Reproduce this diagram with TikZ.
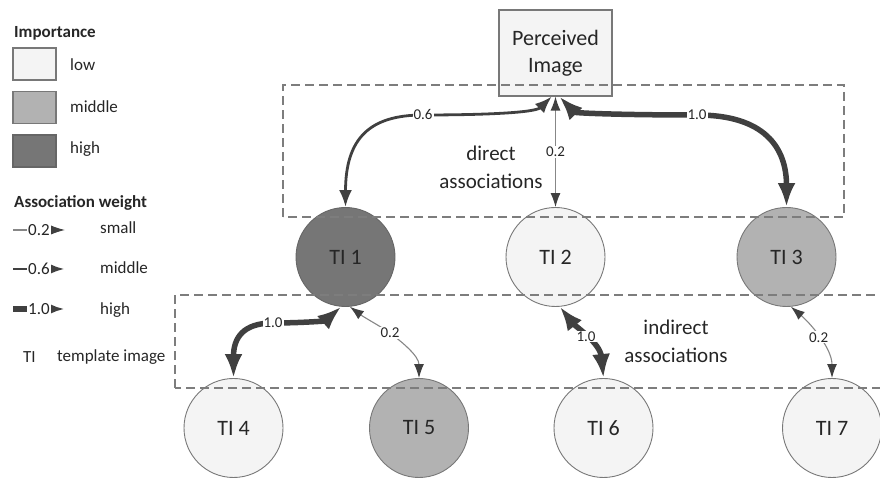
\documentclass[tikz,border=0pt]{standalone}
\usepackage{fontspec}
\setmainfont{Carlito}
\usepackage{xcolor}
\definecolor{imp-low}{RGB}{244, 244, 244}
\definecolor{imp-mid}{RGB}{178, 178, 178}
\definecolor{imp-high}{RGB}{118, 118, 118}
\definecolor{rim}{RGB}{120, 120, 120}
\definecolor{ink}{RGB}{38,  38,  38}
\definecolor{edge-dark}{RGB}{64,  64,  64}
\definecolor{edge-light}{RGB}{135, 135, 135}
\definecolor{frame-gray}{RGB}{125, 125, 125}
\usepackage{tikz}
\usetikzlibrary{arrows.meta}
\tikzset{
  % --- PRIMITIVES (shade-named) ---
  gray-light/.style={
    fill=imp-low,
    draw=rim,
    text=ink
  },
  gray-mid/.style={
    fill=imp-mid,
    draw=rim,
    text=ink
  },
  gray-dark/.style={
    fill=imp-high,
    draw=rim!85!black,
    text=ink
  },
  % --- NODES ---
  template/.style={
    circle,
    minimum size=99pt,
    inner sep=0pt,
    line width=0.9pt,
    font=\fontsize{22pt}{26pt}\selectfont
  },
  perceived/.style={
    gray-light,
    rectangle,
    minimum width=113pt,
    minimum height=86pt,
    line width=1.1pt,
    align=center,
    font=\fontsize{22pt}{27pt}\selectfont
  },
  % --- GROUP BOXES ---
  group-box/.style={
    draw=frame-gray,
    line width=1.2pt,
    dash pattern=on 9pt off 5pt
  },
  group-title/.style={
    text=ink,
    align=center,
    font=\fontsize{21pt}{28pt}\selectfont
  },
  % --- LEGEND ---
  legend-title/.style={
    text=ink,
    anchor=west,
    inner sep=0pt,
    font=\fontsize{17pt}{20pt}\selectfont\bfseries
  },
  legend-text/.style={
    text=ink,
    anchor=west,
    inner sep=0pt,
    font=\fontsize{17pt}{20pt}\selectfont
  },
  legend-swatch/.style={
    minimum width=43pt,
    minimum height=32pt,
    inner sep=0pt,
    line width=1.1pt
  },
  legend-arrow/.style={
    ->,
    >={Latex[length=15pt, width=10pt, color=edge-dark]}
  },
  % --- ARROWS ---
  assoc-small/.style={
    draw=edge-light,
    line width=1.1pt,
    >={Latex[length=14pt, width=10pt, color=edge-dark]},
    <->
  },
  assoc-mid/.style={
    draw=edge-dark,
    line width=2.8pt,
    >={Latex[length=17pt, width=13pt]},
    <->
  },
  assoc-high/.style={
    draw=edge-dark,
    line width=5.5pt,
    >={Latex[length=24pt, width=18pt]},
    <->
  },
  assoc-label/.style={
    fill=white,
    text=ink,
    inner sep=1pt,
    font=\fontsize{15pt}{17pt}\selectfont
  },
}

\begin{document}
\begin{tikzpicture}[x=1pt, y=1pt]
  \useasboundingbox (0, 0) rectangle (880, 478);
  \clip (0, 0) rectangle (880, 478);

  % --- legend: importance
  \node[legend-title] (imp-title) at (14, 444.5) {Importance};
  \node[legend-swatch, gray-light] (sw-low)  at (34.5, 414) {};
  \node[legend-text] (sw-low-txt)  at (70, 413) {low};
  \node[legend-swatch, gray-mid]   (sw-mid)  at (34.5, 370.5) {};
  \node[legend-text] (sw-mid-txt)  at (70, 371) {middle};
  \node[legend-swatch, gray-dark]  (sw-high) at (34.5, 327) {};
  \node[legend-text] (sw-high-txt) at (70, 329) {high};
  % --- legend: association weight
  \node[legend-title] (wt-title) at (14, 275) {Association weight};
  \coordinate (ws-a) at (13, 248);  \coordinate (ws-b) at (65, 248);
  \coordinate (wm-a) at (13, 209);  \coordinate (wm-b) at (65, 209);
  \coordinate (wh-a) at (13, 169);  \coordinate (wh-b) at (65, 169);
  \draw[assoc-small, legend-arrow] (ws-a) -- node[assoc-label, font=\fontsize{17pt}{20pt}\selectfont] {0.2} (ws-b);
  \draw[assoc-mid, legend-arrow]   (wm-a) -- node[assoc-label, font=\fontsize{17pt}{20pt}\selectfont] {0.6} (wm-b);
  \draw[assoc-high, legend-arrow]  (wh-a) -- node[assoc-label, font=\fontsize{17pt}{20pt}\selectfont] {1.0} (wh-b);
  \node[legend-text] (wt-small)  at (100, 250) {small};
  \node[legend-text] (wt-middle) at (100, 210) {middle};
  \node[legend-text] (wt-high)   at (100, 168) {high};
  \node[legend-text] (ti-abbr)   at (23, 121) {TI};
  \node[legend-text] (ti-long)   at (57, 121) {template image};

  % --- perceived image + template images
  \node[perceived] (pi) at (555.5, 425) {Perceived\\Image};
  \node[template, gray-dark]  (ti1) at (345.5, 221) {TI 1};
  \node[template, gray-light] (ti2) at (555.5, 221) {TI 2};
  \node[template, gray-mid]   (ti3) at (786.5, 221) {TI 3};
  \node[template, gray-light] (ti4) at (233.5, 50) {TI 4};
  \node[template, gray-mid]   (ti5) at (419, 50) {TI 5};
  \node[template, gray-light] (ti6) at (603.5, 50) {TI 6};
  \node[template, gray-light] (ti7) at (832, 50) {TI 7};

  % --- association groups
  \draw[group-box] (283, 261) rectangle (844, 393);
  \draw[group-box] (175, 90) rectangle (890, 183);
  \node[group-title] (direct)   at (491, 311) {direct\\associations};
  \node[group-title] (indirect) at (676, 137) {indirect\\associations};

  % --- direct associations
  \draw[assoc-mid] (ti1.north) .. controls (345.5, 340) and (370, 363) .. (423, 363)
    node[assoc-label] {0.6} .. controls (480, 363) and (535, 365) .. (pi.265);
  \draw[assoc-small] (ti2.north) -- node[assoc-label] {0.2} (pi.south);
  \draw[assoc-high] (pi.275) .. controls (575, 365) and (620, 363) .. (697, 363)
    node[assoc-label] {1.0} .. controls (765, 363) and (786.5, 330) .. (ti3.north);

  % --- indirect associations
  \draw[assoc-high] (ti4.north) .. controls (233.5, 140) and (243, 155) .. (273, 155)
    node[assoc-label] {1.0} .. controls (300, 155) and (325, 157) .. (ti1.-95);
  \draw[assoc-small] (ti1.-85) .. controls (365, 160) and (380, 152) .. (390, 145)
    node[assoc-label] {0.2} .. controls (402, 136) and (419, 122) .. (ti5.north);
  \draw[assoc-high] (ti2.-85) .. controls (575, 152) and (600, 135) .. node[assoc-label] {1.0} (ti6.north);
  \draw[assoc-small] (ti3.-85) .. controls (810, 155) and (832, 130) .. node[assoc-label] {0.2} (ti7.north);

\end{tikzpicture}
\end{document}
